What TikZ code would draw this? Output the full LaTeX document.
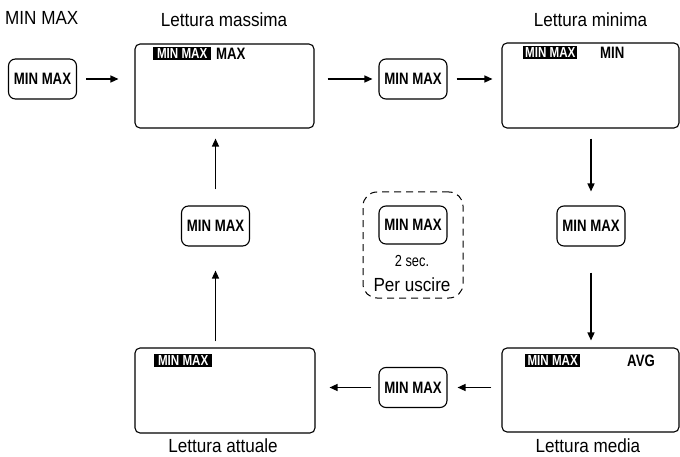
\documentclass[tikz,border=0pt]{standalone}
\usepackage{fontspec}
\setmainfont{Liberation Sans}
\newfontfamily\condfont{Liberation Sans}[FakeStretch=0.8]
\newfontfamily\titlefont{Liberation Sans}[FakeStretch=0.9]
\usetikzlibrary{arrows.meta}
\tikzset{
  screen/.style={draw, line width=1.1pt, rounded corners=5pt, inner sep=0pt},
  btn/.style={draw, line width=1.1pt, rounded corners=7pt, inner sep=0pt,
    minimum width=68pt, minimum height=40pt,
    font=\condfont\bfseries\fontsize{16.5}{18}\selectfont},
  inv/.style={fill=black, text=white, inner xsep=2pt, inner ysep=0pt,
    minimum height=13pt, text height=10.5pt, text depth=0pt, anchor=west,
    font=\condfont\bfseries\fontsize{14.5}{15}\selectfont},
  mode/.style={anchor=west, inner sep=0pt,
    font=\condfont\bfseries\fontsize{16.5}{18}\selectfont},
  ttl/.style={anchor=base, inner sep=0pt, font=\titlefont\fontsize{19}{21}\selectfont},
  flow/.style={line width=1.4pt, -{Triangle[length=8pt,width=7pt]}},
}
\begin{document}
\begin{tikzpicture}[x=1pt,y=-1pt]
\useasboundingbox (0,0) rectangle (680,457);
% titles
\node[ttl, anchor=base west] (t0) at (5,25) {MIN MAX};
\node[ttl] (t1) at (224,27) {Lettura massima};
\node[ttl] (t2) at (590.5,27) {Lettura minima};
\node[ttl] (t3) at (223,452) {Lettura attuale};
\node[ttl] (t4) at (588,452) {Lettura media};
% screens
\node[screen, minimum width=179pt, minimum height=84pt] (s1) at (224.5,86) {};
\node[screen, minimum width=177pt, minimum height=85pt] (s2) at (590.5,85.5) {};
\node[screen, minimum width=180pt, minimum height=85pt] (s3) at (225,390.5) {};
\node[screen, minimum width=177pt, minimum height=84pt] (s4) at (590.5,390) {};
% screen contents
\node[inv, minimum width=58pt] (i1) at (153,53.5) {MIN MAX};
\node[mode] (m1) at (216,53.5) {MAX};
\node[inv, minimum width=52pt] (i2) at (523,52.5) {MIN MAX};
\node[mode] (m2) at (600,52.5) {MIN};
\node[inv, minimum width=58pt] (i3) at (154,360.5) {MIN MAX};
\node[inv, minimum width=55pt] (i4) at (525,360.5) {MIN MAX};
\node[mode] (m4) at (627,360.5) {AVG};
% buttons
\node[btn] (b1) at (42.5,79) {MIN MAX};
\node[btn] (b2) at (413,79) {MIN MAX};
\node[btn] (b3) at (591,226) {MIN MAX};
\node[btn] (b4) at (413,387.5) {MIN MAX};
\node[btn] (b5) at (215.5,226) {MIN MAX};
% exit group
\node[draw, line width=1pt, dash pattern=on 7pt off 5pt, rounded corners=14pt,
  minimum width=100pt, minimum height=106pt, inner sep=0pt] (ex) at (413,245) {};
\node[btn, minimum height=38pt] (b6) at (413,225) {MIN MAX};
\node[anchor=base, inner sep=0pt, font=\condfont\fontsize{16}{18}\selectfont] (sec) at (412,266) {2 sec.};
\node[ttl] (per) at (412,291) {Per uscire};
% connectors
\draw[flow, shorten <=9pt, shorten >=16pt] (b1.east) -- (b1.east -| s1.west);
\draw[flow, shorten <=13pt, shorten >=6pt] (s1.east |- b2.west) -- (b2.west);
\draw[flow, shorten <=9pt, shorten >=9pt] (b2.east) -- (b2.east -| s2.west);
\draw[flow, shorten <=10pt, shorten >=14pt] (b3.north |- s2.south) -- (b3.north);
\draw[flow, shorten <=26pt, shorten >=7pt] (b3.south) -- (b3.south |- s4.north);
\draw[flow, shorten <=10pt, shorten >=10pt] (s4.west |- b4.east) -- (b4.east);
\draw[flow, shorten <=7pt, shorten >=14pt] (b4.west) -- (b4.west -| s3.east);
\draw[flow, shorten <=6pt, shorten >=24pt] (b5.south |- s3.north) -- (b5.south);
\draw[flow, shorten <=16pt, shorten >=10pt] (b5.north) -- (b5.north |- s1.south);
\end{tikzpicture}
\end{document}
